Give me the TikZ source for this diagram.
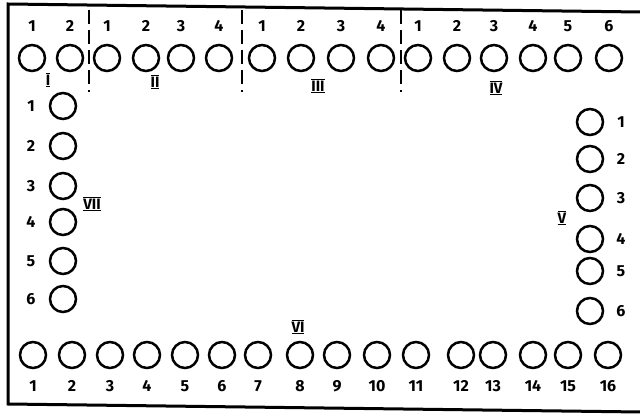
\documentclass[tikz,border=0pt]{standalone}
\usepackage{fontspec}
\setmainfont{Fira Sans}
\newcommand\romlab[1]{$\overline{\underline{\hbox{\bfseries\fontsize{15}{18}\selectfont #1}}}$}
\begin{document}
\begin{tikzpicture}[x=1pt,y=-1pt,
  pin/.style={circle,draw,line width=2.5pt,minimum size=26pt,inner sep=0pt},
  num/.style={font=\fontsize{16}{19}\selectfont\bfseries,inner sep=0pt},
  grp/.style={inner sep=0pt},
  frame/.style={line width=3pt},
  sep/.style={line width=1.3pt,dash pattern=on 14pt off 6pt}]
\useasboundingbox (0,0) rectangle (640,415);
% frame
\coordinate (tl) at (8,4);
\coordinate (tr) at (641,12);
\coordinate (bl) at (8,404);
\coordinate (br) at (641,412);
\draw[frame] (tr) -- (tl) -- (bl) -- (br);
% top row
\foreach \x/\n/\k in {32/1/a1,70/2/a2,107/1/b1,146/2/b2,181/3/b3,219/4/b4,262/1/c1,301/2/c2,341/3/c3,381/4/c4,418/1/d1,457/2/d2,494/3/d3,533/4/d4,568/5/d5,609/6/d6}{
  \node[pin] (t\k) at (\x,58) {};
  \node[num] (tn\k) at (\x,26) {\n};
}
% separators
\foreach \x/\k in {89/s1,242/s2,401/s3}{
  \coordinate (\k a) at (\x,10);
  \coordinate (\k b) at (\x,92);
  \draw[sep] (\k a) -- (\k b);
}
\node[grp] (gI) at (48,80) {\romlab{I}};
\node[grp] (gII) at (155,82) {\romlab{II}};
\node[grp] (gIII) at (318,86) {\romlab{III}};
\node[grp] (gIV) at (496,88) {\romlab{IV}};
% left column VII
\foreach \y/\n in {106/1,146/2,186/3,222/4,261/5,299/6}{
  \node[pin] (l\n) at (63,\y) {};
  \node[num] (ln\n) at (31,\y) {\n};
}
\node[grp] (gVII) at (92,204) {\romlab{VII}};
% right column V
\foreach \y/\n in {122/1,159/2,198/3,239/4,271/5,311/6}{
  \node[pin] (r\n) at (590,\y) {};
  \node[num] (rn\n) at (621,\y) {\n};
}
\node[grp] (gV) at (562,218) {\romlab{V}};
% bottom row VI
\foreach \x/\n in {33/1,72/2,110/3,147/4,185/5,222/6,258/7,300/8,337/9,377/10,416/11,461/12,493/13,533/14,568/15,608/16}{
  \node[pin] (bo\n) at (\x,355) {};
  \node[num] (bn\n) at (\x,386) {\n};
}
\node[grp] (gVI) at (298,327) {\romlab{VI}};
\end{tikzpicture}
\end{document}
